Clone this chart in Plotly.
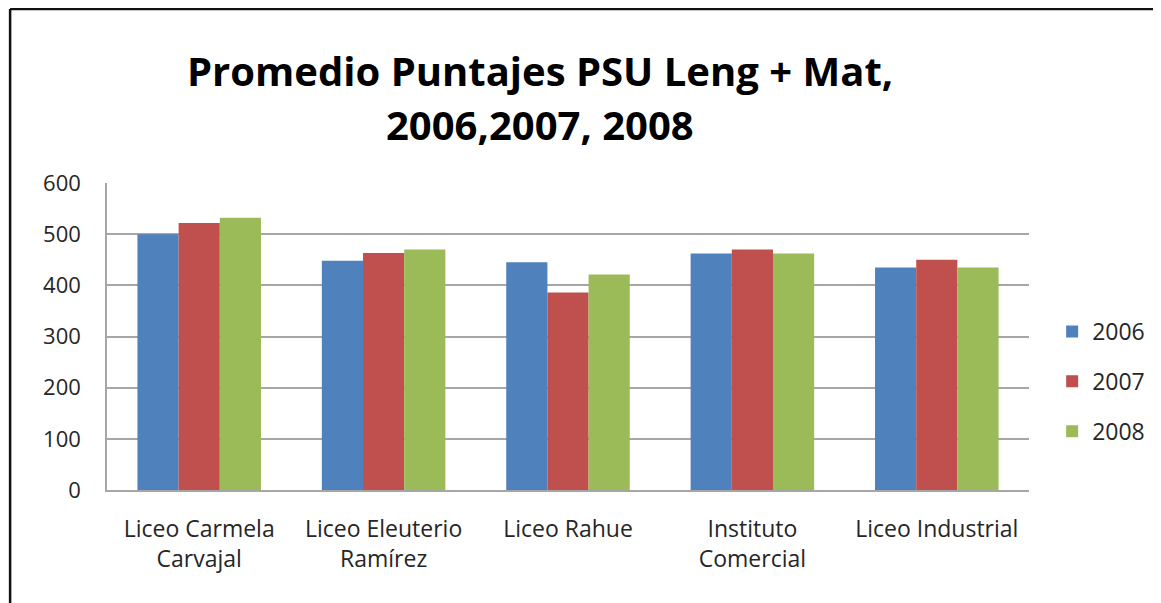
import plotly.graph_objects as go

categories = ["Liceo Carmela<br>Carvajal", "Liceo Eleuterio<br>Ramírez", "Liceo Rahue",
              "Instituto<br>Comercial", "Liceo Industrial"]
series_names = ["2006", "2007", "2008"]
v2006 = [500, 448, 445, 462, 435]
v2007 = [522, 463, 386, 470, 450]
v2008 = [532, 470, 421, 462, 435]
colors = ["#4F81BD", "#C0504D", "#9BBB59"]
title_lines = ["Promedio Puntajes PSU Leng + Mat,", "2006,2007, 2008"]

# page body has an 8px margin -> figure is offset by (8, 8)
W, H = 1153, 595
L, R, T, B = 99, 131, 175, 113
PW, PH = W - L - R, H - T - B

fig = go.Figure()
for name, vals, col in zip(series_names, [v2006, v2007, v2008], colors):
    fig.add_trace(go.Bar(x=categories, y=vals, name=name, marker_color=col,
                         marker_line_width=0, legendgroup=name))

font_family = "Open Sans, Lato, sans-serif"
fig.update_layout(
    width=W, height=H,
    margin=dict(l=L, r=R, t=T, b=B),
    paper_bgcolor="white", plot_bgcolor="white",
    barmode="group", bargap=0.33, bargroupgap=0,
    font=dict(family=font_family, size=23, color="#262626"),
    legend=dict(x=1.024, xanchor="left", y=0.5 - 45 / PH, yanchor="middle",
                font=dict(size=23), tracegroupgap=17, itemwidth=30,
                bgcolor="rgba(0,0,0,0)"),
    showlegend=True,
)
for i, (line, ypix) in enumerate(zip(title_lines, [62, 117])):
    fig.add_annotation(text="<b>" + line + "</b>", xref="paper", yref="paper",
                       x=(532 - L) / PW, y=1 + (T - ypix) / PH, xanchor="center", yanchor="middle",
                       showarrow=False, font=dict(family=font_family, size=40, color="#000000"))

fig.update_yaxes(range=[0, 600], dtick=100, showgrid=True, gridcolor="#A6A6A6", gridwidth=1.5,
                 showline=True, linecolor="#A6A6A6", linewidth=1.5, ticks="",
                 ticklabelstandoff=20, zeroline=False, tickfont=dict(size=22))
fig.update_xaxes(showline=True, linecolor="#A6A6A6", linewidth=1.5, ticks="",
                 ticklabelstandoff=18, tickangle=0)

# outer frame of the chart
fx = (2 - L) / PW
fy = 1 + (T - 1) / PH
fig.add_shape(type="line", xref="paper", yref="paper", x0=fx, x1=1.3, y0=fy, y1=fy,
              line=dict(color="#111111", width=2.5))
fig.add_shape(type="line", xref="paper", yref="paper", x0=fx, x1=fx, y0=-0.5, y1=fy,
              line=dict(color="#111111", width=2.5))

fig.write_html("out.html")
